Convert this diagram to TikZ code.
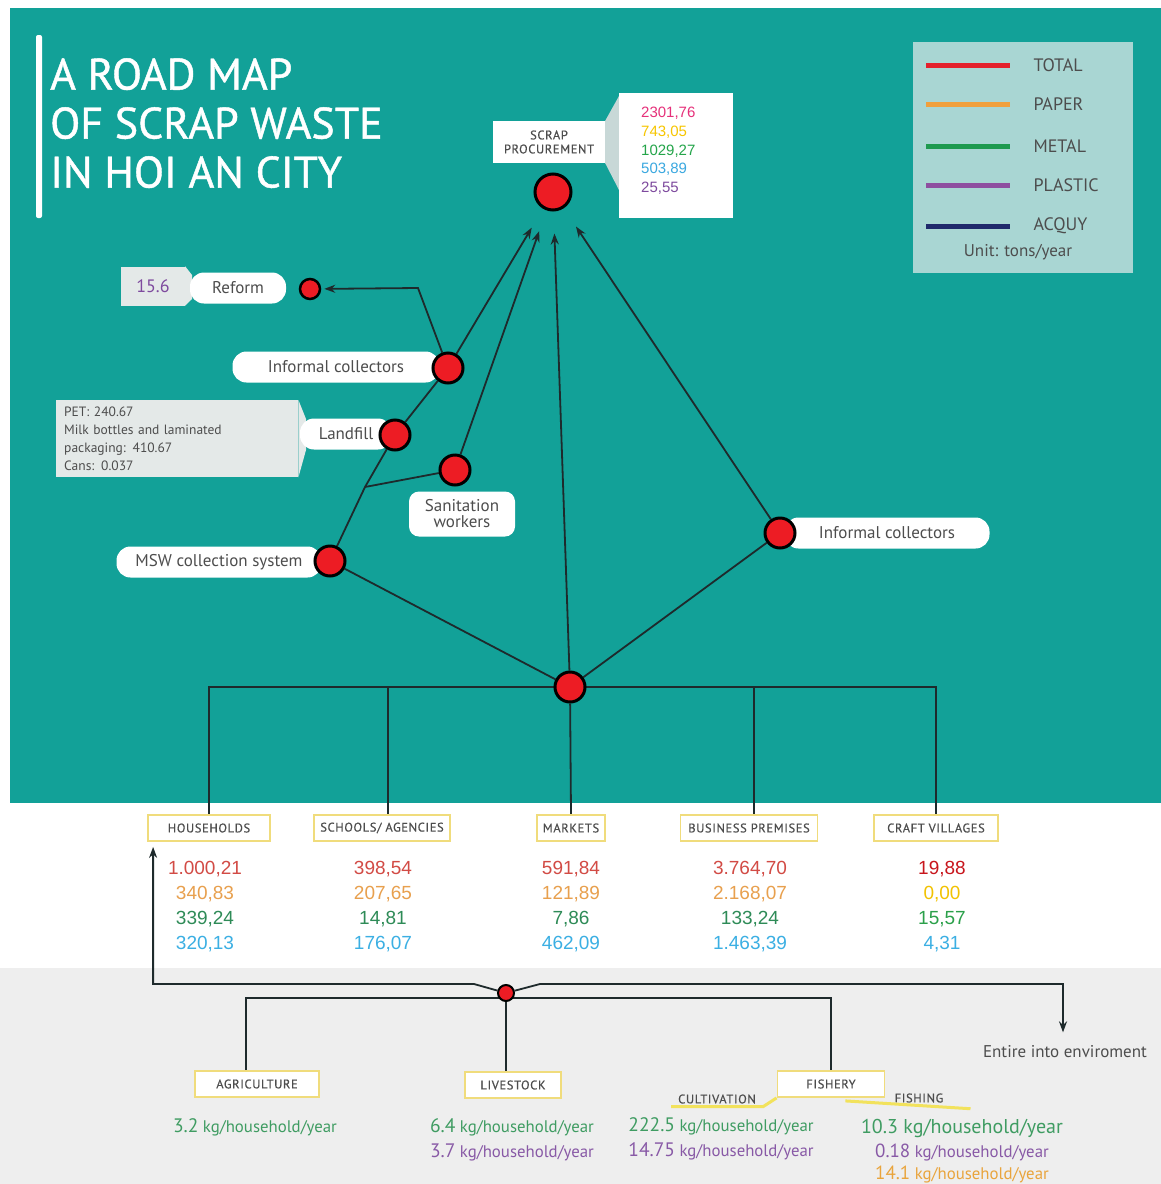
\documentclass[tikz,border=0pt]{standalone}
\usepackage{fontspec}
\setmainfont{PT Sans}
\newfontfamily\numfont{Liberation Sans}
\newfontfamily\capfont[LetterSpace=5, FakeBold=0.5]{PT Sans}
\newfontfamily\titlefont[FakeBold=1]{PT Sans}
\usetikzlibrary{arrows.meta, positioning, backgrounds}
\definecolor{seateal}{HTML}{12A198}
\definecolor{legbg}{HTML}{A9D6D3}
\definecolor{greyzone}{HTML}{EEEEEE}
\definecolor{dotred}{HTML}{ED1C24}
\definecolor{linec}{HTML}{1E2A2C}
\definecolor{labgrey}{HTML}{4D4D4D}
\definecolor{valgrey}{HTML}{E4E9E8}
\definecolor{wedgec}{HTML}{C8D8D7}
\definecolor{boxyellow}{HTML}{F0DC7C}
\definecolor{legred}{HTML}{E3202B}
\definecolor{legorange}{HTML}{F0A03C}
\definecolor{leggreen}{HTML}{1E9A4F}
\definecolor{legpurple}{HTML}{8E4FA0}
\definecolor{legnavy}{HTML}{1F2A6B}
\definecolor{sumpink}{HTML}{E6307A}
\definecolor{sumyellow}{HTML}{F7C600}
\definecolor{sumgreen}{HTML}{24A54A}
\definecolor{sumblue}{HTML}{3AA8E0}
\definecolor{sumpurple}{HTML}{7E4A9E}
\definecolor{totalc}{HTML}{D24B45}
\definecolor{totaldark}{HTML}{C8161D}
\definecolor{paperc}{HTML}{E8A04E}
\definecolor{paperyellow}{HTML}{F2C200}
\definecolor{metalc}{HTML}{2E8B57}
\definecolor{metallight}{HTML}{2BA04A}
\definecolor{bluec}{HTML}{3BAFE3}
\definecolor{valgreen}{HTML}{3F9C62}
\definecolor{valpurple}{HTML}{8859A6}
\definecolor{valorange}{HTML}{E9A43C}
\definecolor{brushyellow}{HTML}{F2E25C}
\newcommand{\kgyear}{{\fontsize{16.8}{18}\selectfont\ kg/household/year}}

\begin{document}
\begin{tikzpicture}[x=1pt, y=-1pt,
    dot/.style={circle, draw=black, line width=3pt, fill=dotred,
                minimum size=30pt, inner sep=0pt},
    smalldot/.style={dot, minimum size=20pt, line width=2.5pt},
    pill/.style={fill=white, rounded corners=14pt, minimum height=31pt,
                 text=labgrey, font=\fontsize{17}{18}\selectfont},
    catbox/.style={draw=boxyellow, line width=1.8pt, fill=white,
                   minimum height=26pt, inner xsep=2pt, text=labgrey,
                   font=\capfont\fontsize{12.5}{14}\selectfont},
    val/.style={align=center, inner sep=0pt, font=\numfont\fontsize{19}{25}\selectfont},
    botval/.style={align=center, inner sep=0pt, font=\fontsize{19.5}{25}\selectfont},
    arr/.style={-{Stealth[length=11pt, width=8pt]}, line width=1.8pt, draw=linec},
    link/.style={line width=1.8pt, draw=linec}
]
    \useasboundingbox (0,0) rectangle (1161,1184);

    % backdrop
    \begin{scope}[on background layer]
        \fill[white] (0,0) rectangle (1161,1184);
        \fill[seateal] (10,8) rectangle (1161,803);
        \fill[greyzone] (0,968) rectangle (1161,1184);
    \end{scope}

    % title and legend
    \fill[white, rounded corners=2pt] (36,35) rectangle (42,218);
    \node[anchor=north west, inner sep=0pt, align=left, text=white,
          font=\titlefont\fontsize{44}{49}\selectfont] (title) at (50,58)
          {A ROAD MAP\\OF SCRAP WASTE\\IN HOI AN CITY};

    \node[fill=legbg, anchor=north west, minimum width=220pt,
          minimum height=231pt] (legend) at (913,42) {};
    \draw[legred, line width=5pt]    (926,65)  -- (1010,65);
    \draw[legorange, line width=5pt] (926,104) -- (1010,104);
    \draw[leggreen, line width=5pt]  (926,146) -- (1010,146);
    \draw[legpurple, line width=5pt] (926,185) -- (1010,185);
    \draw[legnavy, line width=5pt]   (926,226) -- (1010,226);
    \node[anchor=west, text=labgrey, font=\fontsize{18}{20}\selectfont] at (1030,65)  {TOTAL};
    \node[anchor=west, text=labgrey, font=\fontsize{18}{20}\selectfont] at (1030,104) {PAPER};
    \node[anchor=west, text=labgrey, font=\fontsize{18}{20}\selectfont] at (1030,146) {METAL};
    \node[anchor=west, text=labgrey, font=\fontsize{18}{20}\selectfont] at (1030,185) {PLASTIC};
    \node[anchor=west, text=labgrey, font=\fontsize{18}{20}\selectfont] at (1030,226) {ACQUY};
    \node[text=labgrey, font=\fontsize{17}{19}\selectfont] (unit) at (1018,252) {Unit: tons/year};

    % scrap procurement
    \node[fill=white, minimum width=112pt, minimum height=42pt, align=center,
          text=labgrey, font=\capfont\fontsize{12.5}{14}\selectfont]
          (scraplab) at (549,142) {SCRAP\\PROCUREMENT};
    \fill[wedgec] (scraplab.north east) -- (619,96) -- (619,190) -- (scraplab.south east) -- cycle;
    \node[fill=white, anchor=north west, minimum width=114pt, minimum height=125pt]
          (scrapval) at (619,93) {};
    \node[anchor=north west, align=left, inner sep=0pt,
          font=\numfont\fontsize{15}{18.7}\selectfont]
          (scrapnums) at (641,107)
          {\textcolor{sumpink}{2301,76}\\\textcolor{sumyellow}{743,05}\\
           \textcolor{sumgreen}{1029,27}\\\textcolor{sumblue}{503,89}\\
           \textcolor{sumpurple}{25,55}};
    \node[dot, minimum size=36pt] (scrap) at (553,192) {};

    % reform
    \node[fill=valgrey, minimum width=64pt, minimum height=39pt, text=sumpurple,
          font=\fontsize{18}{20}\selectfont] (reformval) at (153,286) {15.6};
    \fill[valgrey] (reformval.north east) -- (192,275) -- (192,299) -- (reformval.south east) -- cycle;
    \node[pill, minimum width=96pt] (reformlab) at (238,288) {Reform};
    \node[smalldot] (reform) at (310,289) {};

    % informal collectors (left)
    \node[pill, minimum width=207pt] (icllab) at (336,367) {Informal collectors};
    \node[dot] (icl) at (448,368) {};

    % landfill
    \node[fill=valgrey, anchor=north west, text width=226pt, minimum height=77pt,
          align=left, inner xsep=8pt, text=labgrey, font=\fontsize{13.5}{18}\selectfont]
          (landval) at (56,400)
          {PET: 240.67\\Milk bottles and laminated\\packaging: 410.67\\Cans: 0.037};
    \fill[valgrey] (landval.north east) -- (306,419) -- (306,450) -- (landval.south east) -- cycle;
    \node[pill, minimum width=92pt] (landlab) at (346,434) {Landfill};
    \node[dot] (land) at (395,435) {};

    % sanitation workers
    \node[pill, rounded corners=10pt, minimum width=106pt, minimum height=45pt,
          align=center, font=\fontsize{17}{16}\selectfont]
          (sanlab) at (462,514) {Sanitation\\workers};
    \node[dot] (san) at (455,470) {};

    % MSW collection system
    \node[pill, minimum width=205pt] (mswlab) at (219,562) {MSW collection system};
    \node[dot] (msw) at (330,561) {};

    % informal collectors (right)
    \node[pill, minimum width=205pt] (icrlab) at (887,533) {Informal collectors};
    \node[dot] (icr) at (780,533) {};

    % hub
    \node[dot] (hub) at (570,687) {};

    % sources
    \node[catbox, minimum width=122pt] (house)    at (209,828) {HOUSEHOLDS};
    \node[catbox, minimum width=136pt] (school)   at (382,828) {SCHOOLS/ AGENCIES};
    \node[catbox, minimum width=68pt]  (market)   at (571,828) {MARKETS};
    \node[catbox, minimum width=137pt] (business) at (749,828) {BUSINESS PREMISES};
    \node[catbox, minimum width=124pt] (craft)    at (936,828) {CRAFT VILLAGES};

    \node[val, below=19pt of house, xshift=-4pt] (houseval)
          {\textcolor{totalc}{1.000,21}\\\textcolor{paperc}{340,83}\\
           \textcolor{metalc}{339,24}\\\textcolor{bluec}{320,13}};
    \node[val, below=19pt of school, xshift=1pt] (schoolval)
          {\textcolor{totalc}{398,54}\\\textcolor{paperc}{207,65}\\
           \textcolor{metalc}{14,81}\\\textcolor{bluec}{176,07}};
    \node[val, below=19pt of market] (marketval)
          {\textcolor{totalc}{591,84}\\\textcolor{paperc}{121,89}\\
           \textcolor{metalc}{7,86}\\\textcolor{bluec}{462,09}};
    \node[val, below=19pt of business, xshift=1pt] (businessval)
          {\textcolor{totalc}{3.764,70}\\\textcolor{paperc}{2.168,07}\\
           \textcolor{metalc}{133,24}\\\textcolor{bluec}{1.463,39}};
    \node[val, below=19pt of craft, xshift=6pt] (craftval)
          {\textcolor{totaldark}{19,88}\\\textcolor{paperyellow}{0,00}\\
           \textcolor{metallight}{15,57}\\\textcolor{bluec}{4,31}};

    % lower sources
    \node[dot, minimum size=16pt, line width=2pt] (envhub) at (506,993) {};
    \node[catbox, minimum width=124pt] (agri) at (257,1084) {AGRICULTURE};
    \node[catbox, minimum width=96pt]  (live) at (513,1085) {LIVESTOCK};
    \node[catbox, minimum width=107pt] (fish) at (831,1084) {FISHERY};
    \node[inner sep=1pt, text=labgrey, font=\capfont\fontsize{12.5}{14}\selectfont]
          (cult) at (717,1099) {CULTIVATION};
    \node[inner sep=1pt, text=labgrey, font=\capfont\fontsize{12.5}{14}\selectfont]
          (fishing) at (919,1098) {FISHING};
    \draw[brushyellow, line width=3pt] ([xshift=-6pt, yshift=-2pt]cult.south west)
          -- ([xshift=6pt, yshift=-2pt]cult.south east) -- (fish.south west);
    \draw[brushyellow, line width=3pt] ([xshift=-40pt, yshift=-3pt]fish.south east)
          -- ([xshift=26pt, yshift=-5pt]fishing.south east);
    \node[text=labgrey, font=\fontsize{17}{19}\selectfont] (env) at (1065,1052) {Entire into enviroment};

    \node[botval, text=valgreen, below=21pt of agri, xshift=-2pt] (agrival) {3.2\kgyear};
    \node[botval, below=20pt of live, xshift=-1pt] (liveval)
          {\textcolor{valgreen}{6.4\kgyear}\\\textcolor{valpurple}{3.7\kgyear}};
    \node[botval, below=13pt of cult, xshift=4pt] (cultval)
          {\textcolor{valgreen}{222.5\kgyear}\\\textcolor{valpurple}{14.75\kgyear}};
    \node[botval, anchor=north, inner sep=0pt, text=valgreen, font=\fontsize{20}{22}\selectfont]
          (fishval) at (962,1119) {10.3 kg/household/year};
    \node[botval, below=6pt of fishval, font=\fontsize{19}{22}\selectfont] (fishval2)
          {\textcolor{valpurple}{0.18\kgyear}\\\textcolor{valorange}{14.1\kgyear}};

    % connectors
    \coordinate (bend) at (418,288);
    \coordinate (mswjoin) at (365,487);
    \coordinate (upl) at (474,984);
    \coordinate (upr) at (540,984);
    \coordinate (lowc) at (506,998);
    \begin{scope}[on background layer]
        \draw[arr, shorten >=22pt] (icl) -- (scrap);
        \draw[arr, shorten >=22pt] (san) -- (scrap);
        \draw[arr, shorten >=22pt] (hub) -- (scrap);
        \draw[arr, shorten >=22pt] (icr) -- (scrap);
        \draw[arr, shorten >=3pt] (icl) -- (bend) -- (reform);
        \draw[link] (icl) -- (land);
        \draw[link] (land) -- (mswjoin) -- (msw);
        \draw[link] (san) -- (mswjoin);
        \draw[link] (msw) -- (hub);
        \draw[link] (icr) -- (hub);
        \draw[link] (house.north) -- (house.north |- hub) -- (craft.north |- hub) -- (craft.north);
        \draw[link] ([xshift=6pt]school.north) -- ([xshift=6pt]school.north |- hub);
        \draw[link] (market.north) -- (hub);
        \draw[link] ([xshift=5pt]business.north) -- ([xshift=5pt]business.north |- hub);
        \draw[arr, shorten >=5pt] (envhub) -- (upl) -| ([xshift=6pt]house.south west);
        \draw[arr, shorten >=10pt] (envhub) -- (upr) -| ([xshift=-2pt]env.north);
        \draw[link] ([xshift=-11pt]agri.north) -- ([xshift=-11pt]agri.north |- lowc) -- (fish.north |- lowc) -- (fish.north);
        \draw[link] (envhub) -- (envhub |- live.north);
    \end{scope}
\end{tikzpicture}
\end{document}
